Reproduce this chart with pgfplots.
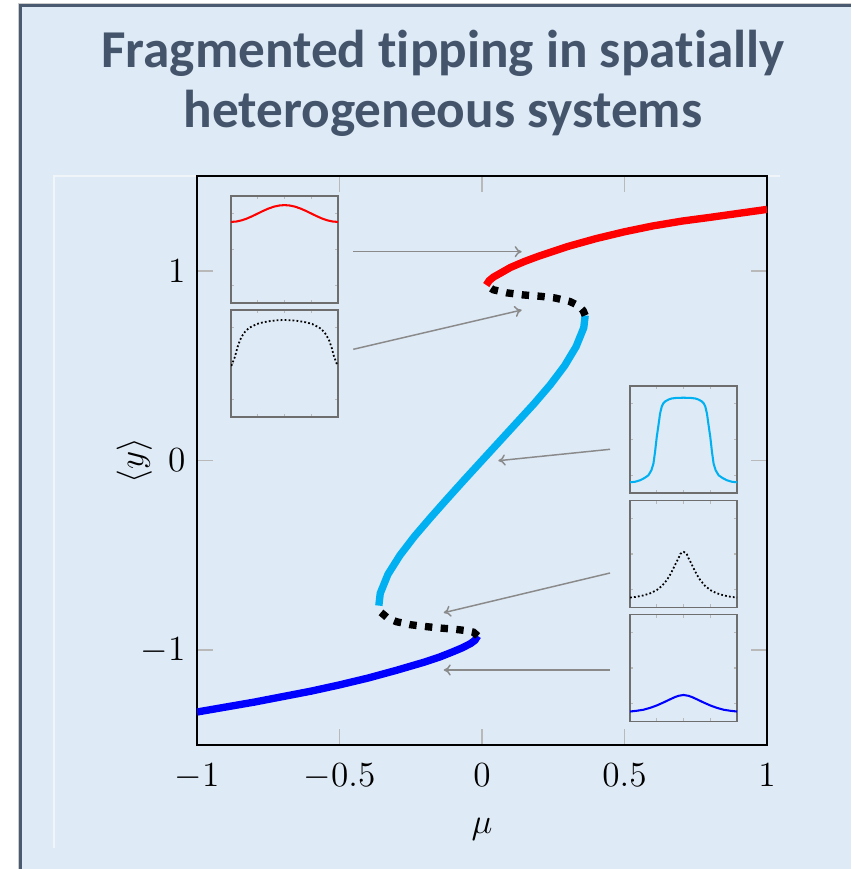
\documentclass[border=0pt]{standalone}
\usepackage{pgfplots}
\pgfplotsset{compat=1.18}
\usepackage{fontspec}
\newfontfamily\titlefont{Carlito}[Ligatures=NoCommon]
\usetikzlibrary{arrows.meta}
\definecolor{bgblue}{HTML}{DEEAF6}
\definecolor{titlecol}{HTML}{44546A}
\definecolor{framecol}{HTML}{4A5A70}
\definecolor{cyanline}{HTML}{00B0F0}
\definecolor{insetframe}{HTML}{6E6E6E}
\definecolor{arrowgray}{HTML}{8A8A8A}

\pgfplotsset{
  inset/.style={
    anchor=south west, width=36.38pt, height=36.38pt, scale only axis,
    xmin=0, xmax=1, ymin=-1.5, ymax=1.5,
    xtick={0.25,0.5,0.75}, ytick={-1,0,1},
    xticklabels={}, yticklabels={},
    tick align=inside, major tick length=1.1pt,
    tick style={gray!55, line width=0.4pt},
    axis line style={insetframe, line width=0.6pt},
  }
}

\begin{document}
\begin{tikzpicture}[x=0.34pt, y=0.34pt]
\useasboundingbox (0,0) rectangle (851,-869);
\fill[white] (0,0) rectangle (851,-869);
\fill[bgblue] (20.5,-5) rectangle (851,-869);
\draw[gray!40, line width=0.4pt] (18.8,-869) -- (18.8,-3.3) -- (851,-3.3);
\draw[framecol, line width=0.9pt] (20.8,-869) -- (20.8,-5.2) -- (851,-5.2);
\draw[white, opacity=0.55, line width=0.4pt] (54,-848) -- (54,-176) -- (780,-176);

\node[anchor=base, font=\titlefont\bfseries\fontsize{18.1}{21}\selectfont, text=titlecol] at (443,-68) {Fragmented tipping in spatially};
\node[anchor=base, font=\titlefont\bfseries\fontsize{18.1}{21}\selectfont, text=titlecol] at (443,-128) {heterogeneous systems};

\begin{axis}[
  at={(66.98pt,-253.3pt)}, anchor=south west,
  width=193.8pt, height=193.46pt, scale only axis,
  xmin=-1, xmax=1, ymin=-1.5, ymax=1.5,
  xtick={-1,-0.5,0,0.5,1}, ytick={-1,0,1},
  tick align=inside, major tick length=5.4pt,
  tick style={gray!55, line width=0.5pt},
  axis line style={black, line width=1pt},
  ticklabel style={font=\fontsize{12}{14}\selectfont},
  xticklabel style={yshift=-3pt},
  yticklabel style={xshift=-0.4pt},
  xlabel={$\mu$}, ylabel={$\langle y\rangle$},
  label style={font=\fontsize{12}{14}\selectfont},
  xlabel style={at={(axis description cs:0.5,-0.149)}, anchor=center},
  ylabel style={at={(axis description cs:-0.11,0.5)}, anchor=center},
]
\addplot[blue, line width=2.5pt] coordinates {
(-1.0,-1.326) (-0.9,-1.300) (-0.8,-1.274) (-0.7,-1.245) (-0.6,-1.216)
(-0.5,-1.183) (-0.4,-1.147) (-0.3,-1.106) (-0.2,-1.062) (-0.15,-1.037)
(-0.1,-1.007) (-0.07,-0.988) (-0.04,-0.965) (-0.025,-0.948) (-0.015,-0.925)
};
\addplot[black, line width=2.5pt, dash pattern=on 2.5pt off 2.85pt] coordinates {
(-0.015,-0.925) (-0.03,-0.905) (-0.06,-0.896) (-0.1,-0.889) (-0.15,-0.883)
(-0.2,-0.875) (-0.25,-0.866) (-0.3,-0.85) (-0.33,-0.832) (-0.355,-0.8) (-0.362,-0.765)
};
\addplot[cyanline, line width=2.5pt] coordinates {
(-0.362,-0.765) (-0.357,-0.7) (-0.33,-0.6) (-0.288,-0.5) (-0.237,-0.4)
(-0.18,-0.3) (-0.121,-0.2) (-0.061,-0.1) (0,0) (0.061,0.1) (0.122,0.2)
(0.183,0.3) (0.24,0.4) (0.29,0.5) (0.33,0.6) (0.357,0.7) (0.362,0.765)
};
\addplot[black, line width=2.5pt, dash pattern=on 2.5pt off 2.85pt] coordinates {
(0.362,0.765) (0.355,0.79) (0.34,0.815) (0.309,0.838) (0.256,0.857)
(0.204,0.866) (0.145,0.873) (0.087,0.884) (0.04,0.9) (0.015,0.925)
};
\addplot[red, line width=2.5pt] coordinates {
(0.015,0.925) (0.025,0.948) (0.04,0.967) (0.065,0.988) (0.1,1.018)
(0.15,1.05) (0.2,1.078) (0.3,1.128) (0.4,1.17) (0.5,1.206) (0.6,1.237)
(0.7,1.262) (0.8,1.282) (0.9,1.303) (1.0,1.324)
};
\end{axis}

% inset 1: red
\begin{axis}[inset, at={(78.54pt,-103.02pt)}]
\addplot[red, line width=0.7pt] coordinates {
(0,0.773) (0.05,0.785) (0.1,0.818) (0.15,0.870) (0.2,0.936) (0.25,1.009)
(0.3,1.082) (0.35,1.148) (0.4,1.2) (0.45,1.233) (0.5,1.245) (0.55,1.233)
(0.6,1.2) (0.65,1.148) (0.7,1.082) (0.75,1.009) (0.8,0.936) (0.85,0.870)
(0.9,0.818) (0.95,0.785) (1,0.773)
};
\end{axis}

% inset 2: dotted unstable
\begin{axis}[inset, at={(78.54pt,-141.78pt)}]
\addplot[black, line width=0.6pt, dash pattern=on 0.6pt off 0.75pt] coordinates {
(0,-0.06) (0.006,-0.047) (0.037,0.19) (0.06,0.45) (0.084,0.656) (0.11,0.8)
(0.131,0.89) (0.155,0.96) (0.178,1.012) (0.21,1.06) (0.24,1.106) (0.3,1.155)
(0.366,1.19) (0.43,1.212) (0.5,1.22) (0.57,1.212) (0.634,1.19) (0.7,1.155)
(0.76,1.106) (0.79,1.06) (0.822,1.012) (0.845,0.96) (0.869,0.89) (0.89,0.8)
(0.916,0.656) (0.94,0.45) (0.963,0.19) (0.994,-0.047) (1,-0.06)
};
\end{axis}

% inset 3: cyan
\begin{axis}[inset, at={(214.2pt,-167.62pt)}]
\addplot[cyanline, line width=0.7pt] coordinates {
(0,-1.2) (0.047,-1.185) (0.094,-1.143) (0.135,-1.08) (0.172,-1.003)
(0.2,-0.86) (0.219,-0.675) (0.234,-0.347) (0.25,0.075) (0.266,0.403)
(0.281,0.73) (0.297,0.93) (0.3125,1.02) (0.33,1.07) (0.36,1.12) (0.39,1.15)
(0.43,1.165) (0.5,1.172) (0.57,1.165) (0.61,1.15) (0.64,1.12) (0.67,1.07)
(0.6875,1.02) (0.703,0.93) (0.719,0.73) (0.734,0.403) (0.75,0.075)
(0.766,-0.347) (0.781,-0.675) (0.8,-0.86) (0.828,-1.003) (0.865,-1.08)
(0.906,-1.143) (0.953,-1.185) (1,-1.2)
};
\end{axis}

% inset 4: dotted peak
\begin{axis}[inset, at={(214.2pt,-206.55pt)}]
\addplot[black, line width=0.6pt, dash pattern=on 0.6pt off 0.75pt] coordinates {
(0,-1.22) (0.06,-1.2) (0.125,-1.16) (0.19,-1.1) (0.25,-1.01) (0.3,-0.89)
(0.344,-0.73) (0.375,-0.58) (0.406,-0.40) (0.43,-0.25) (0.453,-0.12)
(0.47,0.0) (0.484,0.04) (0.5,0.06) (0.516,0.04) (0.53,0.0) (0.547,-0.12)
(0.57,-0.25) (0.594,-0.40) (0.625,-0.58) (0.656,-0.73) (0.7,-0.89)
(0.75,-1.01) (0.81,-1.1) (0.875,-1.16) (0.94,-1.2) (1,-1.22)
};
\end{axis}

% inset 5: blue
\begin{axis}[inset, at={(214.2pt,-245.31pt)}]
\addplot[blue, line width=0.7pt] coordinates {
(0,-1.22) (0.06,-1.2) (0.125,-1.17) (0.19,-1.115) (0.25,-1.05) (0.31,-0.97)
(0.375,-0.877) (0.42,-0.815) (0.453,-0.78) (0.5,-0.755) (0.547,-0.78)
(0.58,-0.815) (0.625,-0.877) (0.69,-0.97) (0.75,-1.05) (0.81,-1.115)
(0.875,-1.17) (0.94,-1.2) (1,-1.22)
};
\end{axis}

% annotation arrows
\begin{scope}[arrowgray, line width=0.5pt, -{To[length=2.4pt,width=3.8pt]}]
\draw (353.3,-251.7) -- (521.7,-251.7);
\draw (353.3,-349.3) -- (521.7,-310);
\draw (610,-449.3) -- (498.3,-460.7);
\draw (610,-573) -- (443.7,-612.7);
\draw (610,-670) -- (443.7,-670);
\end{scope}
\end{tikzpicture}
\end{document}
